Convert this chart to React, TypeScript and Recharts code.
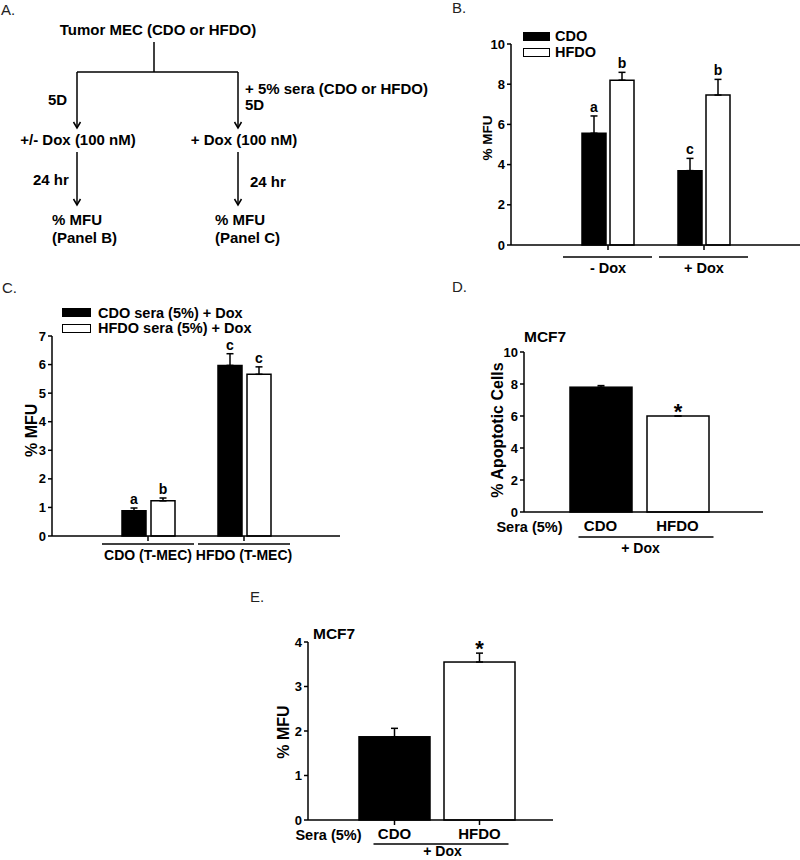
import React from "react";
import {
  BarChart,
  Bar,
  XAxis,
  YAxis,
  ErrorBar,
  LabelList,
  Legend,
} from "recharts";

const FONT = '"Liberation Sans", Arial, Helvetica, sans-serif';

// Panel B: tumor MEC, -/+ Dox
const panelBGroups = ["- Dox", "+ Dox"];
const panelBCdo = [5.56, 3.7];
const panelBCdoErr = [0.86, 0.61];
const panelBCdoMarks = ["a", "c"];
const panelBHfdo = [8.2, 7.46];
const panelBHfdoErr = [0.39, 0.78];
const panelBHfdoMarks = ["b", "b"];
const panelBTicks = [0, 2, 4, 6, 8, 10];

// Panel C: T-MEC with 5% sera + Dox
const panelCGroups = ["CDO (T-MEC)", "HFDO (T-MEC)"];
const panelCCdo = [0.88, 5.97];
const panelCCdoErr = [0.1, 0.41];
const panelCCdoMarks = ["a", "c"];
const panelCHfdo = [1.23, 5.66];
const panelCHfdoErr = [0.1, 0.26];
const panelCHfdoMarks = ["b", "c"];
const panelCTicks = [0, 1, 2, 3, 4, 5, 6, 7];

// Panel D: MCF7 apoptotic cells
const panelDGroups = ["CDO", "HFDO"];
const panelDValues = [7.8, 6.0];
const panelDErr = [0.1, 0];
const panelDMarks = ["", "*"];
const panelDTicks = [0, 2, 4, 6, 8, 10];

// Panel E: MCF7 % MFU
const panelEGroups = ["CDO", "HFDO"];
const panelEValues = [1.87, 3.55];
const panelEErr = [0.19, 0.2];
const panelEMarks = ["", "*"];
const panelETicks = [0, 1, 2, 3, 4];

const panelBRows = panelBGroups.map((group, i) => ({
  group,
  cdo: panelBCdo[i],
  cdoErr: [0, panelBCdoErr[i]],
  cdoMark: panelBCdoMarks[i],
  hfdo: panelBHfdo[i],
  hfdoErr: [0, panelBHfdoErr[i]],
  hfdoMark: panelBHfdoMarks[i],
}));

const panelCRows = panelCGroups.map((group, i) => ({
  group,
  cdo: panelCCdo[i],
  cdoErr: [0, panelCCdoErr[i]],
  cdoMark: panelCCdoMarks[i],
  hfdo: panelCHfdo[i],
  hfdoErr: [0, panelCHfdoErr[i]],
  hfdoMark: panelCHfdoMarks[i],
}));

const panelDRows = panelDGroups.map((group, i) => ({
  group,
  value: panelDValues[i],
  err: [0, panelDErr[i]],
  mark: panelDMarks[i],
}));

const panelERows = panelEGroups.map((group, i) => ({
  group,
  value: panelEValues[i],
  err: [0, panelEErr[i]],
  mark: panelEMarks[i],
}));

// letter / asterisk sitting on top of the error bar
const markLabel =
  (rows: any[], valueKey: string, errKey: string, markKey: string, fontSize: number, lift: number) =>
  (props: any) => {
    const { x, y, width, height, index } = props;
    const row = rows[index];
    if (!row || !row[markKey]) return null;
    const value = row[valueKey];
    const ppu = value ? Number(height) / value : 0;
    const top = Number(y) - row[errKey][1] * ppu;
    return (
      <text
        x={Number(x) + Number(width) / 2}
        y={top - lift}
        textAnchor="middle"
        fontSize={fontSize}
        fontWeight="bold"
        fill="#000"
      >
        {row[markKey]}
      </text>
    );
  };

const yLabel =
  (text: string, fromAxis: number, dy: number, fontSize: number, title?: { text: string; dx: number; dy: number }) =>
  (props: any) => {
    const vb = props.viewBox || {};
    const x = vb.x + vb.width - fromAxis;
    const y = vb.y + vb.height / 2 + dy;
    return (
      <g>
        <text
          x={x}
          y={y}
          transform={`rotate(-90 ${x} ${y})`}
          textAnchor="middle"
          fontSize={fontSize}
          fontWeight="bold"
          fill="#000"
        >
          {text}
        </text>
        {title && (
          <text
            x={vb.x + vb.width + title.dx}
            y={vb.y + title.dy}
            fontSize={15.5}
            fontWeight="bold"
            fill="#000"
          >
            {title.text}
          </text>
        )}
      </g>
    );
  };

const groupTick =
  (left: number, right: number, lineDy: number, textDy: number, fontSize: number) => (props: any) => {
    const { x, y, payload } = props;
    return (
      <g>
        <line x1={x - left} x2={x + right} y1={y + lineDy} y2={y + lineDy} stroke="#000" strokeWidth={1.5} />
        <text x={x} y={y + textDy} textAnchor="middle" fontSize={fontSize} fontWeight="bold" fill="#000">
          {payload.value}
        </text>
      </g>
    );
  };

const seraTick =
  (seraDx: number, lineLeft: number, lineRight: number, lineDy: number, doxDx: number, doxDy: number) =>
  (props: any) => {
    const { x, y, payload, index } = props;
    return (
      <g>
        <text x={x} y={y + 14} textAnchor="middle" fontSize={15} fontWeight="bold" fill="#000">
          {payload.value}
        </text>
        {index === 0 && (
          <g>
            <text x={x - seraDx} y={y + 15} textAnchor="end" fontSize={14.5} fontWeight="bold" fill="#000">
              Sera (5%)
            </text>
            <line x1={x - lineLeft} x2={x + lineRight} y1={y + lineDy} y2={y + lineDy} stroke="#000" strokeWidth={1.5} />
            <text x={x + doxDx} y={y + doxDy} textAnchor="middle" fontSize={14} fontWeight="bold" fill="#000">
              + Dox
            </text>
          </g>
        )}
      </g>
    );
  };

const legendContent = (swatchW: number, gap: number, rowH: number, fontSize: number) => (props: any) => (
  <div>
    {(props.payload || []).map((entry: any) => (
      <div
        key={entry.value}
        style={{ display: "flex", alignItems: "center", height: rowH, fontSize, fontWeight: "bold", fontFamily: FONT }}
      >
        <span
          style={{
            display: "inline-block",
            width: swatchW,
            height: 7,
            background: entry.payload?.fill ?? entry.color,
            border: "1.2px solid #000",
            marginRight: gap,
          }}
        />
        <span style={{ color: "#000", whiteSpace: "nowrap" }}>{entry.value}</span>
      </div>
    ))}
  </div>
);

const axisLine = { stroke: "#000", strokeWidth: 1.5 };
const tickLine = { stroke: "#000", strokeWidth: 1.5 };
const yTick = { fill: "#000", fontSize: 13, fontWeight: "bold" };

function Flowchart() {
  const t = { fontSize: 15, fontWeight: "bold" as const, fill: "#000" };
  const arrow = (x: number, y: number) => (
    <polyline points={`${x - 3.5},${y - 6} ${x},${y} ${x + 3.5},${y - 6}`} fill="none" stroke="#000" strokeWidth={1.5} />
  );
  return (
    <svg width={440} height={250} style={{ position: "absolute", left: 0, top: 0 }}>
      <text x={158} y={35} textAnchor="middle" {...t}>Tumor MEC (CDO or HFDO)</text>
      <line x1={154} y1={42} x2={154} y2={72} stroke="#000" strokeWidth={1.5} />
      <line x1={77} y1={72} x2={238} y2={72} stroke="#000" strokeWidth={1.5} />
      <line x1={77} y1={72} x2={77} y2={128} stroke="#000" strokeWidth={1.5} />
      <line x1={238} y1={72} x2={238} y2={128} stroke="#000" strokeWidth={1.5} />
      {arrow(77, 128)}
      {arrow(238, 128)}
      <text x={48} y={105} {...t}>5D</text>
      <text x={245} y={94} {...t}>+ 5% sera (CDO or HFDO)</text>
      <text x={245} y={110} {...t}>5D</text>
      <text x={78} y={145} textAnchor="middle" {...t}>+/- Dox (100 nM)</text>
      <text x={244} y={145} textAnchor="middle" {...t}>+ Dox (100 nM)</text>
      <line x1={77} y1={152} x2={77} y2={205} stroke="#000" strokeWidth={1.5} />
      <line x1={238} y1={152} x2={238} y2={205} stroke="#000" strokeWidth={1.5} />
      {arrow(77, 205)}
      {arrow(238, 205)}
      <text x={33} y={185} {...t}>24 hr</text>
      <text x={250} y={187} {...t}>24 hr</text>
      <text x={52} y={225} {...t}>% MFU</text>
      <text x={52} y={243} {...t}>(Panel B)</text>
      <text x={215} y={225} {...t}>% MFU</text>
      <text x={215} y={243} {...t}>(Panel C)</text>
    </svg>
  );
}

const panelLetter = (text: string, left: number, top: number) => (
  <div style={{ position: "absolute", left, top, fontSize: 15, lineHeight: "15px", color: "#222", fontFamily: FONT }}>
    {text}
  </div>
);

export default function App() {
  return (
    <div
      style={{
        position: "absolute",
        left: 0,
        top: 0,
        width: 800,
        height: 860,
        background: "#fff",
        fontFamily: FONT,
        overflow: "hidden",
      }}
    >
      <Flowchart />
      {panelLetter("A.", 1, 2)}
      {panelLetter("B.", 452, 0)}
      {panelLetter("C.", 2, 280)}
      {panelLetter("D.", 452, 279)}
      {panelLetter("E.", 250, 589)}

      {/* Panel B */}
      <div style={{ position: "absolute", left: 430, top: 0 }}>
        <BarChart
          width={370}
          height={290}
          data={panelBRows}
          margin={{ top: 44, right: 0, bottom: 0, left: 31 }}
          barGap={4}
        >
          <XAxis
            dataKey="group"
            height={45}
            padding={{ left: 49, right: 48 }}
            axisLine={axisLine}
            tickLine={tickLine}
            tickSize={5}
            tickMargin={0}
            interval={0}
            tick={groupTick(45, 44, 7, 23, 14.5)}
          />
          <YAxis
            type="number"
            domain={[0, 10]}
            ticks={panelBTicks}
            width={50}
            axisLine={axisLine}
            tickLine={tickLine}
            tickSize={4}
            tickMargin={2}
            tick={yTick}
            label={yLabel("% MFU", 19.5, -6.5, 13.5)}
          />
          <Legend
            layout="vertical"
            align="center"
            verticalAlign="middle"
            wrapperStyle={{ top: 28, left: 93, width: 120 }}
            content={legendContent(25, 5, 16, 14.5)}
          />
          <Bar dataKey="cdo" name="CDO" fill="#000" stroke="#000" strokeWidth={1.5} barSize={24} isAnimationActive={false}>
            <ErrorBar dataKey="cdoErr" direction="y" width={3.5} stroke="#000" strokeWidth={1.5} />
            <LabelList dataKey="cdoMark" content={markLabel(panelBRows, "cdo", "cdoErr", "cdoMark", 14, 4)} />
          </Bar>
          <Bar dataKey="hfdo" name="HFDO" fill="#fff" stroke="#000" strokeWidth={1.5} barSize={24} isAnimationActive={false}>
            <ErrorBar dataKey="hfdoErr" direction="y" width={3.5} stroke="#000" strokeWidth={1.5} />
            <LabelList dataKey="hfdoMark" content={markLabel(panelBRows, "hfdo", "hfdoErr", "hfdoMark", 14, 4)} />
          </Bar>
        </BarChart>
      </div>

      {/* Panel C */}
      <div style={{ position: "absolute", left: 0, top: 270 }}>
        <BarChart
          width={420}
          height={300}
          data={panelCRows}
          margin={{ top: 66, right: 80, bottom: 0, left: 12 }}
          barGap={5}
        >
          <XAxis
            dataKey="group"
            height={34}
            padding={{ left: 48, right: 48 }}
            axisLine={axisLine}
            tickLine={tickLine}
            tickSize={5}
            tickMargin={0}
            interval={0}
            tick={groupTick(46, 46, 3, 19, 14)}
          />
          <YAxis
            type="number"
            domain={[0, 7]}
            ticks={panelCTicks}
            width={40}
            axisLine={axisLine}
            tickLine={tickLine}
            tickSize={4}
            tickMargin={2}
            tick={yTick}
            label={yLabel("% MFU", 14.5, -5.7, 16)}
          />
          <Legend
            layout="vertical"
            align="center"
            verticalAlign="middle"
            wrapperStyle={{ top: 35, left: 62, width: 220 }}
            content={legendContent(27, 7, 15.5, 14.5)}
          />
          <Bar dataKey="cdo" name="CDO sera (5%) + Dox" fill="#000" stroke="#000" strokeWidth={1.5} barSize={24} isAnimationActive={false}>
            <ErrorBar dataKey="cdoErr" direction="y" width={3.5} stroke="#000" strokeWidth={1.5} />
            <LabelList dataKey="cdoMark" content={markLabel(panelCRows, "cdo", "cdoErr", "cdoMark", 14, 4)} />
          </Bar>
          <Bar dataKey="hfdo" name="HFDO sera (5%) + Dox" fill="#fff" stroke="#000" strokeWidth={1.5} barSize={24} isAnimationActive={false}>
            <ErrorBar dataKey="hfdoErr" direction="y" width={3.5} stroke="#000" strokeWidth={1.5} />
            <LabelList dataKey="hfdoMark" content={markLabel(panelCRows, "hfdo", "hfdoErr", "hfdoMark", 14, 4)} />
          </Bar>
        </BarChart>
      </div>

      {/* Panel D */}
      <div style={{ position: "absolute", left: 420, top: 300 }}>
        <BarChart
          width={380}
          height={260}
          data={panelDRows}
          margin={{ top: 52, right: 37, bottom: 0, left: 54 }}
        >
          <XAxis
            dataKey="group"
            height={48}
            padding={{ left: 38, right: 47 }}
            axisLine={axisLine}
            tickLine={false}
            tickSize={5}
            tickMargin={0}
            interval={0}
            tick={seraTick(38, 22, 113, 20, 40, 36)}
          />
          <YAxis
            type="number"
            domain={[0, 10]}
            ticks={panelDTicks}
            width={50}
            axisLine={axisLine}
            tickLine={tickLine}
            tickSize={4}
            tickMargin={2}
            tick={yTick}
            label={yLabel("% Apoptotic Cells", 21, -2, 16, { text: "MCF7", dx: 0, dy: -10 })}
          />
          <Bar dataKey="value" fill="#000" stroke="#000" strokeWidth={1.5} barSize={62} isAnimationActive={false} shape={(p: any) => (
            <rect x={p.x} y={p.y} width={p.width} height={p.height} fill={p.index === 0 ? "#000" : "#fff"} stroke="#000" strokeWidth={1.5} />
          )}>
            <ErrorBar dataKey="err" direction="y" width={3.5} stroke="#000" strokeWidth={1.5} />
            <LabelList dataKey="mark" content={markLabel(panelDRows, "value", "err", "mark", 22, -3)} />
          </Bar>
        </BarChart>
      </div>

      {/* Panel E */}
      <div style={{ position: "absolute", left: 240, top: 580 }}>
        <BarChart
          width={330}
          height={280}
          data={panelERows}
          margin={{ top: 62, right: 17, bottom: 0, left: 28 }}
        >
          <XAxis
            dataKey="group"
            height={40}
            padding={{ left: 44, right: 31 }}
            axisLine={axisLine}
            tickLine={tickLine}
            tickSize={5}
            tickMargin={0}
            interval={0}
            tick={seraTick(33, 21, 114, 19, 48, 31)}
          />
          <YAxis
            type="number"
            domain={[0, 4]}
            ticks={panelETicks}
            width={40}
            axisLine={axisLine}
            tickLine={tickLine}
            tickSize={4}
            tickMargin={2}
            tick={yTick}
            label={yLabel("% MFU", 19, 1, 16, { text: "MCF7", dx: 5, dy: -3 })}
          />
          <Bar dataKey="value" fill="#000" stroke="#000" strokeWidth={1.5} barSize={71} isAnimationActive={false} shape={(p: any) => (
            <rect x={p.x} y={p.y} width={p.width} height={p.height} fill={p.index === 0 ? "#000" : "#fff"} stroke="#000" strokeWidth={1.5} />
          )}>
            <ErrorBar dataKey="err" direction="y" width={3.5} stroke="#000" strokeWidth={1.5} />
            <LabelList dataKey="mark" content={markLabel(panelERows, "value", "err", "mark", 22, -3)} />
          </Bar>
        </BarChart>
      </div>
    </div>
  );
}
